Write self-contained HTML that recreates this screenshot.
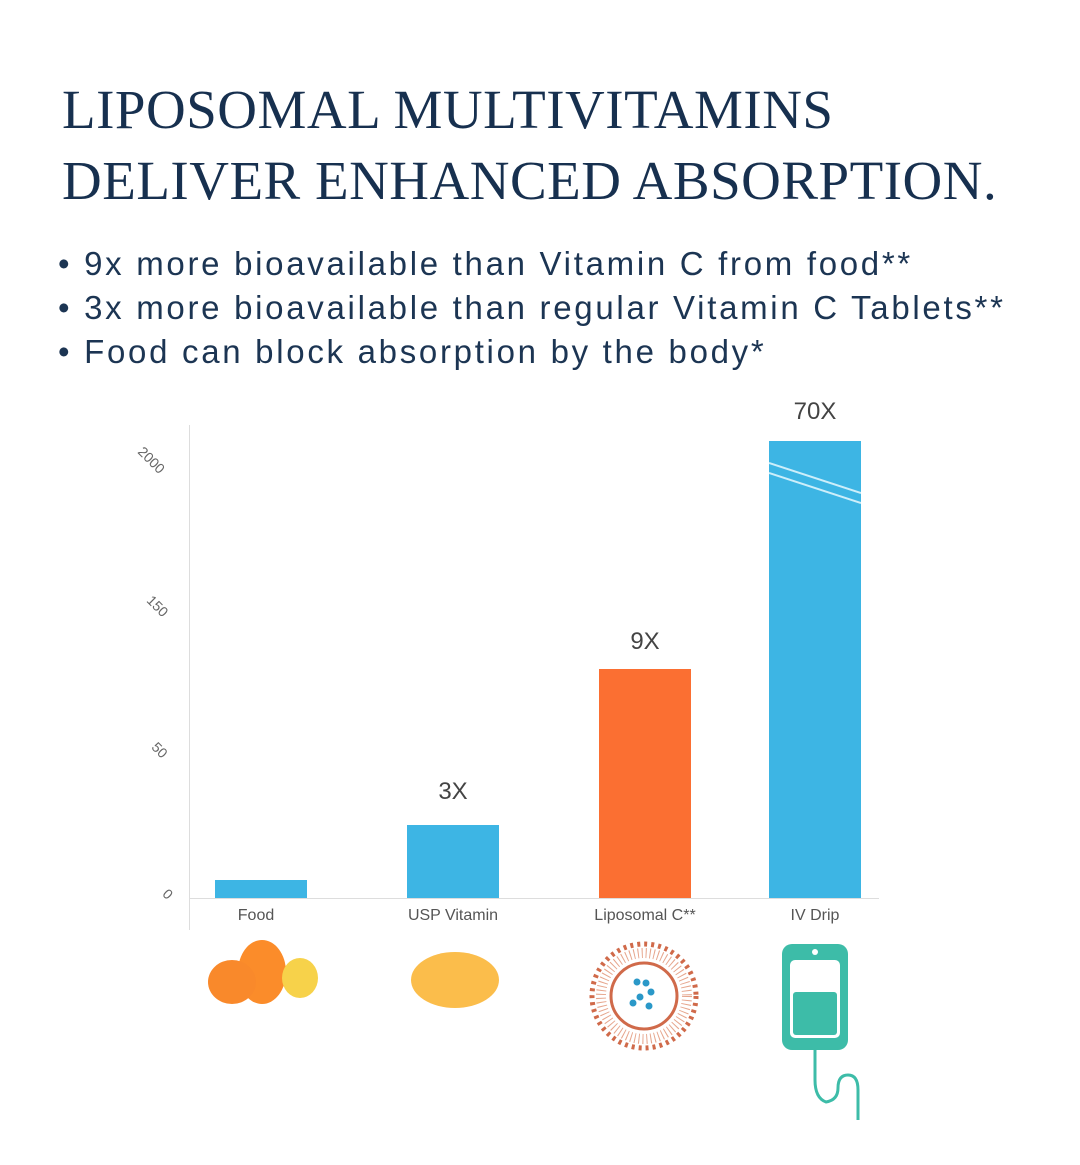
<!DOCTYPE html>
<html><head><meta charset="utf-8"><style>
body{margin:0;width:1080px;height:1165px;background:#fff;position:relative;overflow:hidden;font-family:"Liberation Sans",sans-serif}
.t{position:absolute;left:62px;font-family:"Liberation Serif",serif;font-size:55px;color:#17304f;letter-spacing:0.5px;white-space:nowrap}
.b{position:absolute;left:58px;font-size:33px;letter-spacing:2.7px;color:#1c3553;white-space:nowrap}
.bar{position:absolute;background:#3db5e4}
.lab{position:absolute;font-size:16px;color:#555;text-align:center;width:160px}
.v{position:absolute;font-size:24px;color:#444;text-align:center;width:120px}
.ax{position:absolute;font-size:14px;color:#666;transform:rotate(45deg)}
</style></head><body>
<div class="t" style="top:78px">LIPOSOMAL MULTIVITAMINS</div>
<div class="t" style="top:149px">DELIVER ENHANCED ABSORPTION.</div>
<div class="b" style="top:245px">• 9x more bioavailable than Vitamin C from food**</div>
<div class="b" style="top:289px">• 3x more bioavailable than regular Vitamin C Tablets**</div>
<div class="b" style="top:333px">• Food can block absorption by the body*</div>
<div style="position:absolute;left:189px;top:425px;width:1px;height:505px;background:#ddd"></div>
<div style="position:absolute;left:189px;top:898px;width:690px;height:1px;background:#ddd"></div>
<div class="ax" style="left:136px;top:452px">2000</div>
<div class="ax" style="left:146px;top:598px">150</div>
<div class="ax" style="left:152px;top:742px">50</div>
<div class="ax" style="left:164px;top:886px">0</div>
<div class="bar" style="left:215px;top:880px;width:92px;height:18px"></div>
<div class="bar" style="left:407px;top:825px;width:92px;height:73px"></div>
<div class="bar" style="left:599px;top:669px;width:92px;height:229px;background:#fb6f32"></div>
<div class="bar" style="left:769px;top:441px;width:92px;height:457px"></div>
<svg style="position:absolute;left:769px;top:441px" width="92" height="80"><line x1="0" y1="22" x2="92" y2="52" stroke="#cdeefa" stroke-width="2"/><line x1="0" y1="32" x2="92" y2="62" stroke="#cdeefa" stroke-width="2"/></svg>
<div class="v" style="left:393px;top:778px">3X</div>
<div class="v" style="left:585px;top:628px">9X</div>
<div class="v" style="left:755px;top:398px">70X</div>
<div class="lab" style="left:176px;top:907px">Food</div>
<div class="lab" style="left:373px;top:907px">USP Vitamin</div>
<div class="lab" style="left:565px;top:907px">Liposomal C**</div>
<div class="lab" style="left:735px;top:907px">IV Drip</div>
<svg style="position:absolute;left:0;top:930px" width="1080" height="235">
<ellipse cx="262" cy="42" rx="24" ry="32" fill="#fb8c2a"/>
<ellipse cx="300" cy="48" rx="18" ry="20" fill="#f7d24a"/>
<ellipse cx="232" cy="52" rx="24" ry="22" fill="#f9892b"/>
<ellipse cx="455" cy="50" rx="44" ry="28" fill="#fbbd4b"/>
<circle cx="644" cy="66" r="52" fill="none" stroke="#d06a4a" stroke-width="5" stroke-dasharray="3 4"/>
<circle cx="644" cy="66" r="43" fill="none" stroke="#e6a58c" stroke-width="10" stroke-dasharray="1 3"/>
<circle cx="644" cy="66" r="33" fill="none" stroke="#d06a4a" stroke-width="3"/>
<circle cx="637" cy="52" r="3.5" fill="#2a98c8"/><circle cx="646" cy="53" r="3.5" fill="#2a98c8"/><circle cx="651" cy="62" r="3.5" fill="#2a98c8"/><circle cx="640" cy="67" r="3.5" fill="#2a98c8"/><circle cx="633" cy="73" r="3.5" fill="#2a98c8"/><circle cx="649" cy="76" r="3.5" fill="#2a98c8"/>
<rect x="782" y="14" width="66" height="106" rx="10" fill="#3dbca8"/>
<rect x="790" y="30" width="50" height="78" rx="5" fill="#fff"/>
<rect x="793" y="62" width="44" height="43" rx="3" fill="#3dbca8"/>
<circle cx="815" cy="22" r="3" fill="#fff"/>
<path d="M815 120 V150 Q815 168 826 172 Q838 170 838 158 Q838 145 848 145 Q858 145 858 160 V190" fill="none" stroke="#3dbca8" stroke-width="3"/>
</svg>
</body></html>
